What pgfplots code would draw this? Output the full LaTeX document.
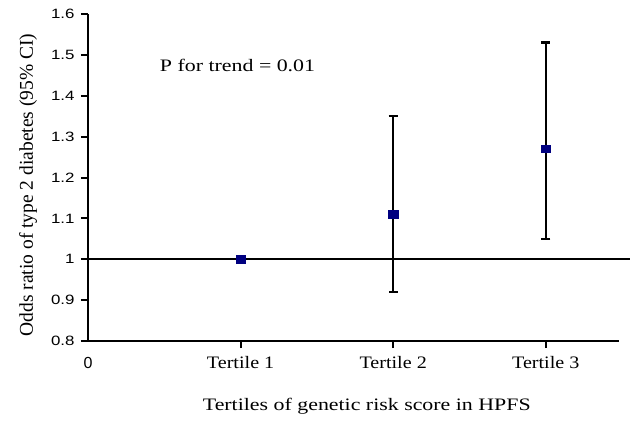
\documentclass[border=0pt]{standalone}
\usepackage{pgfplots}
\pgfplotsset{compat=1.18}
\usepackage{fontspec}
\setmainfont{Liberation Serif}
\newfontfamily\serifw[FakeStretch=1.15]{Liberation Serif}
\newfontfamily\serifx[FakeStretch=1.25]{Liberation Serif}
\newfontfamily\sansw[FakeStretch=1.25]{Liberation Sans}
\newfontfamily\sans{Liberation Sans}
\definecolor{navy}{RGB}{0,0,128}
\begin{document}
\begin{tikzpicture}
\begin{axis}[
  scale only axis, width=531pt, height=327pt,
  xmin=0, xmax=3.48, ymin=0.8, ymax=1.6,
  axis x line=bottom, axis y line=left,
  axis line style={-, line width=2pt},
  xtick={1,2,3}, xticklabels={Tertile 1, Tertile 2, Tertile 3},
  ytick={0.8,0.9,1,1.1,1.2,1.3,1.4,1.5,1.6},
  yticklabels={0.8,0.9,1,1.1,1.2,1.3,1.4,1.5,1.6},
  major tick style={draw=black, line width=2pt},
  major tick length=7pt,
  xtick align=outside, ytick align=outside,
  x tick label style={font=\serifw\fontsize{17.5}{17.5}\selectfont, yshift=-5pt},
  y tick label style={font=\sansw\fontsize{13.5}{13.5}\selectfont, xshift=-3pt},
  xlabel={Tertiles of genetic risk score in HPFS},
  xlabel style={font=\serifx\fontsize{17.5}{17.5}\selectfont, at={(axis description cs:0.525,-0.199)}, anchor=center},
  ylabel={Odds ratio of type 2 diabetes (95\% CI)},
  ylabel style={font=\fontsize{19.5}{19.5}\selectfont, at={(axis description cs:-0.113,0.477)}, anchor=center},
  clip=false,
]
\path (rel axis cs:0,0) ++(-88pt,-80pt) rectangle ++(632pt,421pt);
\pgfplotsinvokeforeach{0.8,0.9,1,1.1,1.2,1.3,1.4,1.5,1.6}{
  \draw[black, line width=2pt] (axis cs:0,#1) -- ++(-6pt,0pt);
}
\pgfplotsinvokeforeach{1,2,3}{
  \draw[black, line width=2pt] (axis cs:#1,0.8) -- ++(0pt,-5pt);
}
\addplot[black, line width=2pt] coordinates {(0,1) (3.55,1)};
\addplot[only marks, mark=square*, mark size=3.7pt, mark options={draw=navy, fill=navy, xscale=1.3},
  error bars/.cd, y dir=both, y explicit,
  error bar style={black, line width=2.4pt},
  error mark options={rotate=90, mark size=4.5pt, line width=2.4pt, black}]
  coordinates {
  (1,1.00)
  (2,1.11) += (0,0.24) -= (0,0.19)
  (3,1.27) += (0,0.26) -= (0,0.22)
  };
\node[font=\serifx\fontsize{17.5}{17.5}\selectfont] at (axis cs:0.98,1.473) {P for trend = 0.01};
\node[font=\sans\fontsize{16}{16}\selectfont, anchor=center] at (axis cs:0,0.8) [yshift=-22pt] {0};
\end{axis}
\end{tikzpicture}
\end{document}
